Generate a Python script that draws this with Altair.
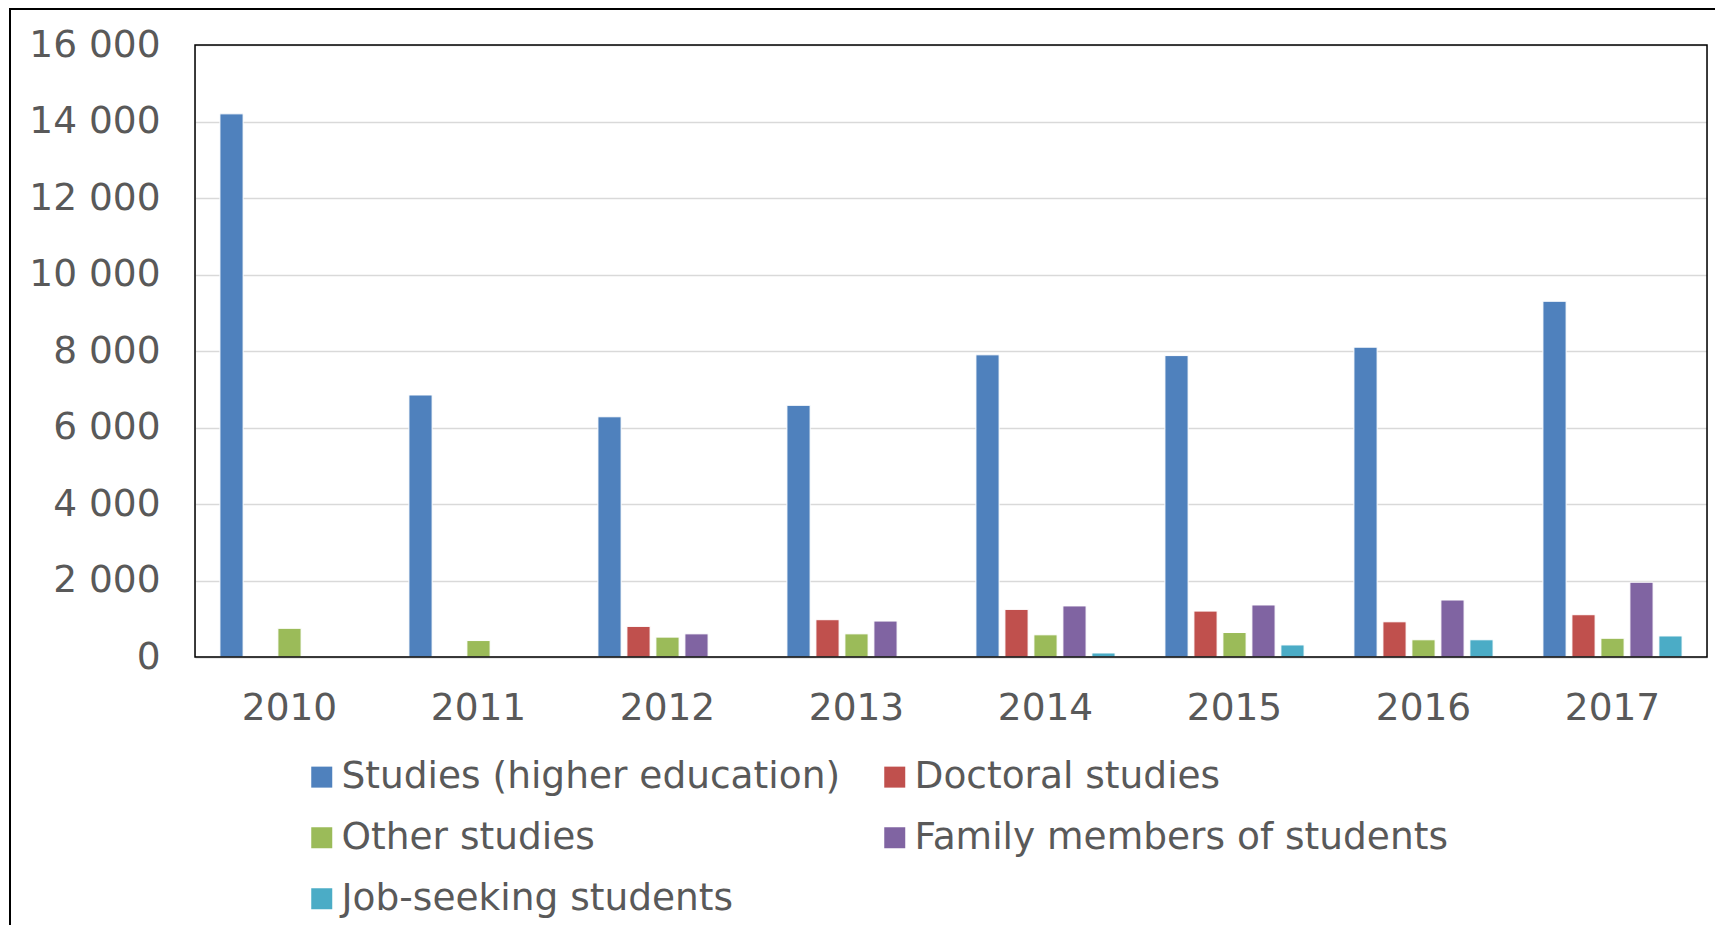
import altair as alt
import pandas as pd

years = ["2010", "2011", "2012", "2013", "2014", "2015", "2016", "2017"]
series = [
    "Studies (higher education)",
    "Doctoral studies",
    "Other studies",
    "Family members of students",
    "Job-seeking students",
]
higher = [14200, 6850, 6280, 6580, 7900, 7880, 8100, 9300]
doctoral = [None, None, 800, 975, 1245, 1200, 920, 1105]
other = [750, 430, 520, 605, 580, 640, 450, 490]
family = [None, None, 605, 940, 1335, 1360, 1490, 1955]
jobseek = [None, None, None, None, 105, 315, 450, 550]
colors = ["#4F81BD", "#C0504D", "#9BBB59", "#8064A2", "#4BACC6"]

# legend is filled column by column: order it so that rows read as in the original
legend_order = [series[0], series[2], series[4], series[1], series[3]]
legend_colors = [colors[series.index(s)] for s in legend_order]

rows = []
for s, vals in zip(series, [higher, doctoral, other, family, jobseek]):
    for y, v in zip(years, vals):
        if v is not None:
            rows.append({"year": y, "series": s, "value": v})
df = pd.DataFrame(rows)

FONT = "DejaVu Sans"
GREY = "#595959"
FS = 37.5
W, H = 1512, 612

bars = alt.Chart(df).mark_bar(stroke="white", strokeWidth=1).encode(
    x=alt.X("year:N", sort=years,
            scale=alt.Scale(paddingInner=0.233, paddingOuter=0.1165),
            axis=alt.Axis(title=None, labelAngle=0, labelFontSize=FS, labelColor=GREY,
                          labelFont=FONT, labelPadding=32, ticks=False,
                          domainColor="#D9D9D9", domainWidth=2, grid=False)),
    xOffset=alt.XOffset("series:N", sort=series,
                        scale=alt.Scale(domain=series, paddingInner=0.2, paddingOuter=0.1)),
    y=alt.Y("value:Q",
            scale=alt.Scale(domain=[0, 16000], nice=False),
            axis=alt.Axis(title=None, values=list(range(0, 16001, 2000)),
                          labelExpr="replace(format(datum.value, ','), ',', ' ')",
                          labelFontSize=FS, labelColor=GREY, labelFont=FONT,
                          labelPadding=35, ticks=False, domain=False,
                          gridColor="#D9D9D9", gridWidth=1.5)),
    color=alt.Color("series:N",
                    scale=alt.Scale(domain=legend_order, range=legend_colors),
                    legend=alt.Legend(title=None, orient="none", legendX=108, legendY=713,
                                      columns=2, columnPadding=35, rowPadding=22,
                                      labelFontSize=FS, labelColor=GREY, labelFont=FONT,
                                      labelLimit=1000, labelOffset=1,
                                      symbolType="square", symbolSize=441,
                                      symbolStrokeWidth=0)),
)

frame_data = pd.DataFrame({"a": [0]})
plot_frame = alt.Chart(frame_data).mark_rect(
    fill="transparent", stroke="black", strokeWidth=1.5
).encode(x=alt.value(0), x2=alt.value(W), y=alt.value(0), y2=alt.value(H))

outer_border = alt.Chart(frame_data).mark_rect(
    fill="transparent", stroke="black", strokeWidth=2
).encode(x=alt.value(-185), x2=alt.value(1700), y=alt.value(-36), y2=alt.value(1000))

chart = alt.layer(bars, plot_frame, outer_border).properties(
    width=W, height=H,
    autosize=alt.AutoSizeParams(type="none"),
    padding={"left": 187, "top": 37, "right": 8, "bottom": 268},
).configure_view(strokeWidth=0).configure(background="white")

chart.save("out.html", embed_options={"renderer": "svg", "actions": False})
